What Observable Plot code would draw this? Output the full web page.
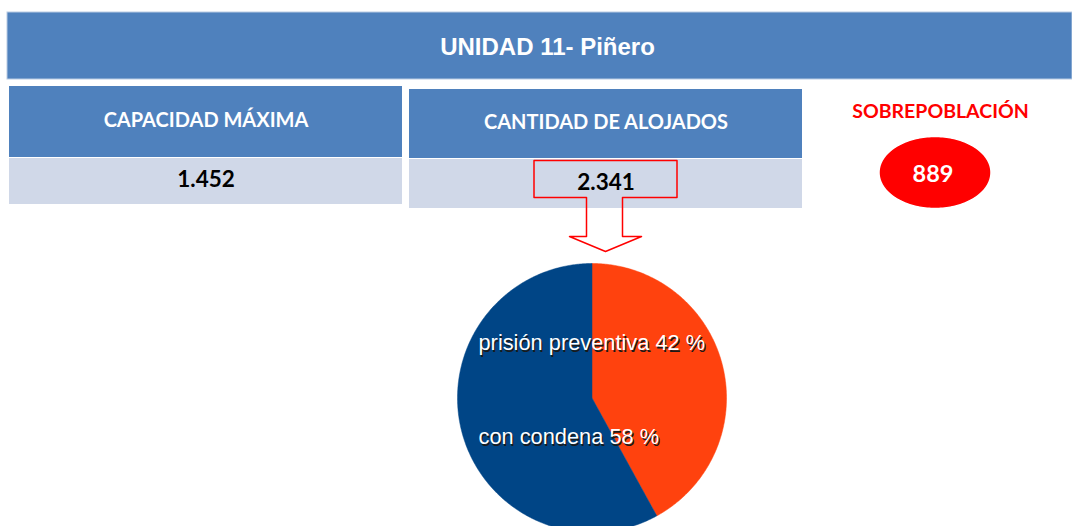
<!DOCTYPE html>
<html><head><meta charset="utf-8">
<script src="https://cdn.jsdelivr.net/npm/d3@7"></script>
<script src="https://cdn.jsdelivr.net/npm/@observablehq/plot@0.6"></script>
<style>body{margin:0;background:#fff} svg{display:block}</style>
</head><body><div id="chart"></div>
<script>
// ---- data ----
const title = "UNIDAD 11- Piñero";
const cardLabels = ["CAPACIDAD MÁXIMA", "CANTIDAD DE ALOJADOS"];
const cardValues = [1452, 2341];
const overLabel = "SOBREPOBLACIÓN";
const sliceLabels = ["prisión preventiva", "con condena"];
const sliceValues = [42, 58];
const sliceColors = ["#ff420e", "#004586"];

// ---- layout ----
const W = 1072, H = 526;
const BLUE = "#4f81bd", LIGHT = "#d0d8e8", RED = "#ff0000";
const titleBox = {x1: 7, x2: 1072, y1: 12, y2: 79};
const cardBoxes = [
  {x1: 9, x2: 402, hy1: 86, hy2: 157, vy2: 204},
  {x1: 409, x2: 802, hy1: 89, hy2: 158, vy2: 208}
];
const ell = {cx: 934.5, cy: 172, rx: 54.5, ry: 34.5};
const pieC = {cx: 591.5, cy: 397.5, r: 134.5};
const labelX = 478, labelY = [343, 437];

const fmt = d3.formatLocale({decimal: ",", thousands: ".", grouping: [3], currency: ["", ""]}).format(",d");
const over = cardValues[1] - cardValues[0];

const cards = cardLabels.map((label, i) => ({label, value: fmt(cardValues[i]), ...cardBoxes[i]}));

// callout arrow derived from second card's value cell
const cb = cardBoxes[1];
const cxA = (cb.x1 + cb.x2) / 2 - 0.5;
const ry1 = cb.hy2 + 2, ry2 = cb.vy2 - 11;
const arrow = [
  [cxA - 71.5, ry2], [cxA - 71.5, ry1], [cxA + 71.5, ry1], [cxA + 71.5, ry2],
  [cxA + 17, ry2], [cxA + 17, ry2 + 39], [cxA + 36, ry2 + 39], [cxA, ry2 + 54],
  [cxA - 36, ry2 + 39], [cxA - 19, ry2 + 39], [cxA - 19, ry2], [cxA - 71.5, ry2]
].map(([x, y]) => ({x, y}));

// ellipse polygon
const ellipse = d3.range(0, 361, 2).map(a => {
  const t = a * Math.PI / 180;
  return {x: ell.cx + ell.rx * Math.cos(t), y: ell.cy + ell.ry * Math.sin(t)};
});

// pie slices
const arcs = d3.pie().sort(null)(sliceValues);
const slices = arcs.map((a, i) => {
  const pts = [{x: pieC.cx, y: pieC.cy}];
  const n = Math.max(2, Math.ceil((a.endAngle - a.startAngle) / 0.01));
  for (let k = 0; k <= n; k++) {
    const t = a.startAngle + (a.endAngle - a.startAngle) * k / n;
    pts.push({x: pieC.cx + pieC.r * Math.sin(t), y: pieC.cy - pieC.r * Math.cos(t)});
  }
  pts.push({x: pieC.cx, y: pieC.cy});
  return {pts, color: sliceColors[i]};
});
const pieLabels = sliceLabels.map((s, i) => ({text: `${s} ${sliceValues[i]} %`, y: labelY[i]}));

const HEAD = "Lato, 'Open Sans', sans-serif";
const ARIAL = "'Liberation Sans', Arial, sans-serif";
const chart = Plot.plot({
  width: W, height: H, margin: 0,
  x: {domain: [0, W], range: [0, W], axis: null},
  y: {domain: [0, H], range: [0, H], axis: null},
  style: {background: "#fff"},
  marks: [
    Plot.rect([titleBox], {x1: "x1", x2: "x2", y1: "y1", y2: "y2", fill: BLUE, stroke: "#b9cbe3", strokeWidth: 1}),
    Plot.text([title], {x: 547, y: (titleBox.y1 + titleBox.y2) / 2 + 1, text: d => d, fill: "#fff", fontSize: 24, fontWeight: "bold", fontFamily: ARIAL}),
    Plot.rect(cards, {x1: "x1", x2: "x2", y1: "hy1", y2: "hy2", fill: BLUE}),
    Plot.rect(cards, {x1: "x1", x2: "x2", y1: d => d.hy2 + 1, y2: "vy2", fill: LIGHT}),
    Plot.text(cards, {x: d => (d.x1 + d.x2) / 2, y: d => (d.hy1 + d.hy2) / 2 - 1, text: "label", fill: "#fff", fontSize: 20, fontWeight: "bold", fontFamily: HEAD}),
    Plot.text(cards, {x: d => (d.x1 + d.x2) / 2, y: d => (d.hy2 + d.vy2) / 2 - 1, text: "value", fill: "#000", fontSize: 22.5, fontWeight: "bold", fontFamily: HEAD}),
    Plot.line(arrow, {x: "x", y: "y", stroke: RED, strokeWidth: 1.5, fill: "none", curve: "linear"}),
    Plot.text([overLabel], {x: 940, y: 111, text: d => d, fill: RED, fontSize: 19.5, fontWeight: "bold", fontFamily: HEAD}),
    Plot.line(ellipse, {x: "x", y: "y", fill: RED, stroke: RED}),
    Plot.text([fmt(over)], {x: ell.cx - 2, y: ell.cy + 2, text: d => d, fill: "#fff", fontSize: 23.5, fontWeight: "bold", fontFamily: HEAD}),
    ...slices.map(s => Plot.line(s.pts, {x: "x", y: "y", fill: s.color, stroke: s.color, strokeWidth: 0.5})),
    Plot.text(pieLabels, {x: labelX, y: "y", text: "text", dx: 1.2, dy: 1.2, fill: "#1a1a1a", textAnchor: "start", fontSize: 21.8, fontFamily: ARIAL}),
    Plot.text(pieLabels, {x: labelX, y: "y", text: "text", fill: "#fff", textAnchor: "start", fontSize: 21.8, fontFamily: ARIAL})
  ]
});
document.getElementById("chart").append(chart);
</script>
</body></html>
